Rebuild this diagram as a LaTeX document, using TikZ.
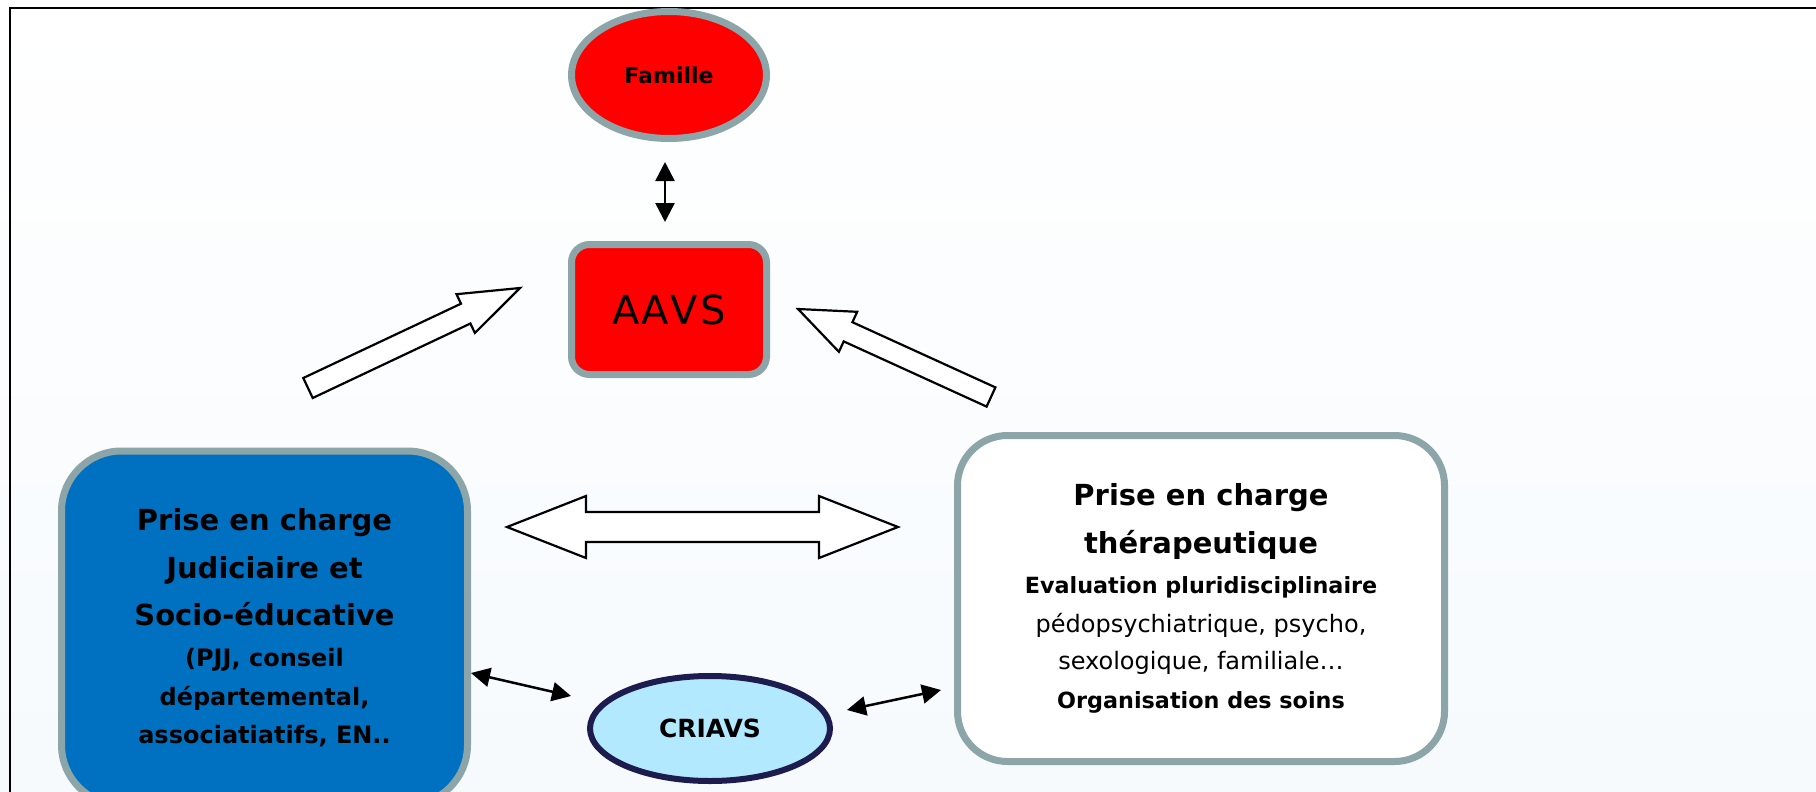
\documentclass[tikz,border=0pt]{standalone}
\usepackage{fontspec}
\setmainfont{DejaVu Sans}
\usetikzlibrary{shapes.geometric,arrows.meta}
\definecolor{edgegray}{RGB}{139,165,168}
\definecolor{boxblue}{RGB}{0,112,192}
\definecolor{famred}{RGB}{255,0,0}
\definecolor{crialight}{RGB}{179,233,255}
\definecolor{crianavy}{RGB}{28,28,78}
\definecolor{bglight}{RGB}{246,250,253}
\newcommand\fbig{\fontsize{29}{47.5}\selectfont\bfseries}
\newcommand\fmid{\fontsize{24}{38.5}\selectfont\bfseries}
\newcommand\fev{\fontsize{22.3}{43}\selectfont\bfseries}
\newcommand\freg{\fontsize{24}{38}\selectfont\mdseries}
\tikzset{
  grayedge/.style={draw=edgegray,line width=7pt},
  dblarrow/.style={line width=2.5pt,{Triangle[length=19pt,width=19pt]}-{Triangle[length=19pt,width=19pt]}},
  blockarrow/.style={draw=black,fill=white,line width=2.2pt,line join=miter},
}
\begin{document}
\begin{tikzpicture}[x=1pt,y=-1pt]
\useasboundingbox (0,0) rectangle (1816,792);
\clip (0,0) rectangle (1816,792);
\shade[top color=white,bottom color=bglight] (0,0) rectangle (1816,792);
\draw[line width=2.2pt] (10,792) -- (10,8) -- (1816,8);

\node[ellipse,grayedge,fill=famred,minimum width=195,minimum height=127,inner sep=0]
  (famille) at (669,75) {\fontsize{22}{26}\selectfont\bfseries Famille};

\node[grayedge,fill=famred,rounded corners=18pt,minimum width=195,minimum height=130,inner sep=0]
  (aavs) at (669,309.5) {\fontsize{40}{48}\selectfont A\kern2pt A\kern2pt V\kern2pt S};

\node[grayedge,fill=boxblue,rounded corners=60pt,minimum width=406,minimum height=354,align=center,inner sep=0,
      font=\fontsize{29}{47.5}\selectfont]
  (jud) at (264.5,628) {\fbig Prise en charge\\\fbig Judiciaire et\\\fbig Socio-éducative\\[-6.5pt]\fmid (PJJ, conseil\\[-9pt]\fmid départemental,\\[-9pt]\fmid associatiatifs, EN..};

\node[grayedge,fill=white,rounded corners=50pt,minimum width=487,minimum height=326,align=center,inner sep=0,
      font=\fontsize{29}{48}\selectfont]
  (ther) at (1201,598.5) {\fbig Prise en charge\\\fbig thérapeutique\\[-8pt]\fev Evaluation pluridisciplinaire\\[-9pt]\freg pédopsychiatrique, psycho,\\[-11pt]\freg sexologique, familiale…\\[-9pt]\fev Organisation des soins};

\node[ellipse,draw=crianavy,line width=6pt,fill=crialight,minimum width=240,minimum height=105,inner sep=0]
  (criavs) at (710,728.5) {\fontsize{25}{28}\selectfont\bfseries CRIAVS};

% thin double arrows
\draw[dblarrow,shorten <=20pt,shorten >=19pt] ([xshift=-4pt]famille.south) -- ([xshift=-4pt]aavs.north);
\draw[dblarrow] ([yshift=-45pt]jud.east) -- ([xshift=-16pt,yshift=32.5pt]criavs.west);
\draw[dblarrow] ([xshift=14pt,yshift=18.5pt]criavs.east) -- ([xshift=-13pt,yshift=-91.5pt]ther.west);

% block arrows
\draw[blockarrow] (303.3,378) -- (461.0,303.7) -- (456.5,294.2) -- (520,288) -- (474.9,333.0) -- (470.4,323.5) -- (312.7,398) -- cycle;
\draw[blockarrow] (798,309) -- (857.2,311.8) -- (852.4,322.2) -- (995.4,387.4) -- (986.6,406.6) -- (843.7,341.4) -- (838.9,351.8) -- cycle;
\draw[blockarrow] (507,527) -- (586,496) -- (586,512) -- (819,512) -- (819,496) -- (898,527) -- (819,558) -- (819,542) -- (586,542) -- (586,558) -- cycle;
\end{tikzpicture}
\end{document}
